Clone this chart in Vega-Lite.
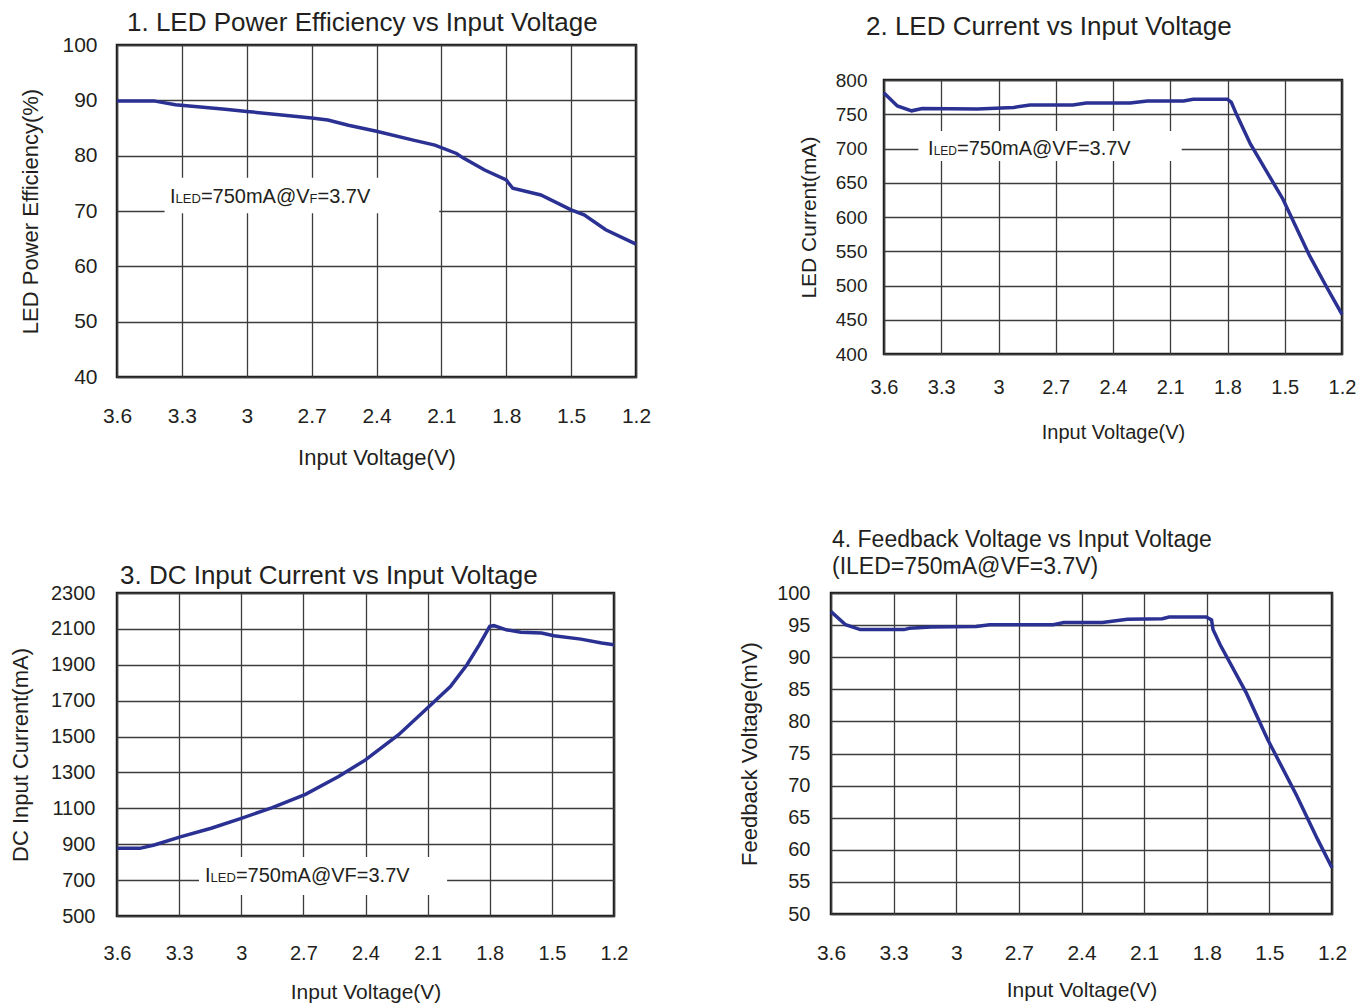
{
  "$schema": "https://vega.github.io/schema/vega-lite/v6.json",
  "background": "white",
  "padding": {"left": 7, "top": 8, "right": 5, "bottom": 5},
  "spacing": 57,
  "config": {
    "view": {"stroke": "#1a1a1a", "strokeWidth": 2.5},
    "axis": {
      "grid": true, "gridColor": "#3c3c3c", "gridWidth": 1.3, "gridOpacity": 1,
      "domain": false, "ticks": false,
      "labelFont": "Liberation Sans", "titleFont": "Liberation Sans",
      "labelColor": "#231f20", "titleColor": "#231f20", "titleFontWeight": "normal",
      "labelFlush": false, "labelOverlap": false
    },
    "title": {"font": "Liberation Sans", "fontWeight": "normal", "color": "#231f20", "anchor": "start", "frame": "group"}
  },
  "vconcat": [
    {
      "spacing": 144,
      "bounds": "full",
      "hconcat": [
        {
          "width": 519, "height": 332,
          "title": {"text": "1. LED Power Efficiency vs Input Voltage", "fontSize": 26, "dx": 10, "offset": -2},
          "encoding": {
            "x": {"field": "v", "type": "quantitative",
              "scale": {"domain": [1.2, 3.6], "reverse": true, "nice": false, "zero": false},
              "axis": {"values": [3.6, 3.3, 3, 2.7, 2.4, 2.1, 1.8, 1.5, 1.2], "format": "~g", "labelFontSize": 21, "labelPadding": 28,
                "title": "Input Voltage(V)", "titleFontSize": 22, "titleY": 80, "titleBaseline": "middle"}},
            "y": {"field": "val", "type": "quantitative",
              "scale": {"domain": [40, 100], "nice": false, "zero": false},
              "axis": {"values": [40, 50, 60, 70, 80, 90, 100], "format": "d", "labelFontSize": 21, "labelPadding": 20,
                "title": "LED Power Efficiency(%)", "titleFontSize": 22, "titleX": -87, "titleBaseline": "middle", "titleAngle": 270}}
          },
          "layer": [
            {"data": {"values": [{"v": 3.38, "v2": 2.11, "val": 69.6, "val2": 76.0}]},
             "mark": {"type": "rect", "fill": "white", "opacity": 1},
             "encoding": {"x2": {"field": "v2"}, "y2": {"field": "val2"}}},
            {"data": {"values": [
              {"v": 3.6, "val": 89.9}, {"v": 3.43, "val": 89.9}, {"v": 3.33, "val": 89.2}, {"v": 3.24, "val": 88.9},
              {"v": 3.1, "val": 88.4}, {"v": 3.0, "val": 88.0}, {"v": 2.85, "val": 87.4}, {"v": 2.7, "val": 86.8},
              {"v": 2.625, "val": 86.45}, {"v": 2.53, "val": 85.5}, {"v": 2.4, "val": 84.4}, {"v": 2.23, "val": 82.8},
              {"v": 2.13, "val": 81.9}, {"v": 2.03, "val": 80.4}, {"v": 2.0, "val": 79.6}, {"v": 1.9, "val": 77.4},
              {"v": 1.8, "val": 75.6}, {"v": 1.77, "val": 74.1}, {"v": 1.64, "val": 72.9}, {"v": 1.5, "val": 70.2},
              {"v": 1.44, "val": 69.3}, {"v": 1.34, "val": 66.6}, {"v": 1.2, "val": 64.0}]},
             "mark": {"type": "line", "color": "#2b3192", "strokeWidth": 3.5}},
            {"data": {"values": [{"v": 3.355, "val": 71.45}]},
             "layer": [
               {"mark": {"type": "text", "text": "I", "align": "left", "baseline": "alphabetic", "fontSize": 20, "dx": 0, "font": "Liberation Sans", "color": "#231f20"}},
               {"mark": {"type": "text", "text": "LED", "align": "left", "baseline": "alphabetic", "fontSize": 13, "dx": 5.6, "font": "Liberation Sans", "color": "#231f20"}},
               {"mark": {"type": "text", "text": "=750mA@V", "align": "left", "baseline": "alphabetic", "fontSize": 20, "dx": 30.9, "font": "Liberation Sans", "color": "#231f20"}},
               {"mark": {"type": "text", "text": "F", "align": "left", "baseline": "alphabetic", "fontSize": 13, "dx": 139.6, "font": "Liberation Sans", "color": "#231f20"}},
               {"mark": {"type": "text", "text": "=3.7V", "align": "left", "baseline": "alphabetic", "fontSize": 20, "dx": 147.5, "font": "Liberation Sans", "color": "#231f20"}}
             ]}
          ]
        },
        {"spacing": 0, "vconcat": [
        {
          "width": 458, "height": 24,
          "view": {"stroke": null},
          "title": {"text": "2. LED Current vs Input Voltage", "fontSize": 26, "dx": -18, "offset": 5},
          "data": {"values": [{"t": ""}]},
          "mark": {"type": "text"},
          "encoding": {"text": {"field": "t", "type": "nominal"}}
        },
        {
          "width": 458, "height": 274,
          "encoding": {
            "x": {"field": "v", "type": "quantitative",
              "scale": {"domain": [1.2, 3.6], "reverse": true, "nice": false, "zero": false},
              "axis": {"values": [3.6, 3.3, 3, 2.7, 2.4, 2.1, 1.8, 1.5, 1.2], "format": "~g", "labelFontSize": 20, "labelPadding": 23,
                "title": "Input Voltage(V)", "titleFontSize": 20, "titleY": 78, "titleBaseline": "middle"}},
            "y": {"field": "val", "type": "quantitative",
              "scale": {"domain": [400, 800], "nice": false, "zero": false},
              "axis": {"values": [400, 450, 500, 550, 600, 650, 700, 750, 800], "format": "d", "labelFontSize": 19, "labelPadding": 17,
                "title": "LED Current(mA)", "titleFontSize": 21, "titleX": -75, "titleBaseline": "middle", "titleAngle": 270}}
          },
          "layer": [
            {"data": {"values": [{"v": 3.42, "v2": 2.04, "val": 681.8, "val2": 725.5}]},
             "mark": {"type": "rect", "fill": "white", "opacity": 1},
             "encoding": {"x2": {"field": "v2"}, "y2": {"field": "val2"}}},
            {"data": {"values": [
              {"v": 3.6, "val": 781}, {"v": 3.53, "val": 762}, {"v": 3.455, "val": 755}, {"v": 3.4, "val": 758.5},
              {"v": 3.11, "val": 757.7}, {"v": 2.92, "val": 760}, {"v": 2.835, "val": 763.5}, {"v": 2.61, "val": 763.5},
              {"v": 2.54, "val": 766.4}, {"v": 2.31, "val": 766.4}, {"v": 2.22, "val": 769.3}, {"v": 2.03, "val": 769.3},
              {"v": 1.98, "val": 771.8}, {"v": 1.8, "val": 771.8}, {"v": 1.78, "val": 767.4}, {"v": 1.75, "val": 748},
              {"v": 1.68, "val": 706.6}, {"v": 1.51, "val": 626.3}, {"v": 1.37, "val": 543.5}, {"v": 1.28, "val": 497.4},
              {"v": 1.2, "val": 458}]},
             "mark": {"type": "line", "color": "#2b3192", "strokeWidth": 3.5}},
            {"data": {"values": [{"v": 3.369, "val": 690.5}]},
             "layer": [
               {"mark": {"type": "text", "text": "I", "align": "left", "baseline": "alphabetic", "fontSize": 20, "dx": 0, "font": "Liberation Sans", "color": "#231f20"}},
               {"mark": {"type": "text", "text": "LED", "align": "left", "baseline": "alphabetic", "fontSize": 12, "dx": 5.6, "font": "Liberation Sans", "color": "#231f20"}},
               {"mark": {"type": "text", "text": "=750mA@V", "align": "left", "baseline": "alphabetic", "fontSize": 20, "dx": 28.9, "font": "Liberation Sans", "color": "#231f20"}},
               {"mark": {"type": "text", "text": "F", "align": "left", "baseline": "alphabetic", "fontSize": 20, "dx": 137.6, "font": "Liberation Sans", "color": "#231f20"}},
               {"mark": {"type": "text", "text": "=3.7V", "align": "left", "baseline": "alphabetic", "fontSize": 20, "dx": 149.8, "font": "Liberation Sans", "color": "#231f20"}}
             ]}
          ]
        }]}
      ]
    },
    {
      "spacing": 217,
      "bounds": "flush",
      "hconcat": [
        {
          "width": 497, "height": 323,
          "title": {"text": "3. DC Input Current vs Input Voltage", "fontSize": 26, "dx": 3, "offset": -6},
          "encoding": {
            "x": {"field": "v", "type": "quantitative",
              "scale": {"domain": [1.2, 3.6], "reverse": true, "nice": false, "zero": false},
              "axis": {"values": [3.6, 3.3, 3, 2.7, 2.4, 2.1, 1.8, 1.5, 1.2], "format": "~g", "labelFontSize": 20, "labelPadding": 27,
                "title": "Input Voltage(V)", "titleFontSize": 21, "titleY": 76, "titleBaseline": "middle"}},
            "y": {"field": "val", "type": "quantitative",
              "scale": {"domain": [500, 2300], "nice": false, "zero": false},
              "axis": {"values": [500, 700, 900, 1100, 1300, 1500, 1700, 1900, 2100, 2300], "format": "d", "labelFontSize": 20, "labelPadding": 22,
                "title": "DC Input Current(mA)", "titleFontSize": 22, "titleX": -97, "titleBaseline": "middle", "titleAngle": 270}}
          },
          "layer": [
            {"data": {"values": [{"v": 3.204, "v2": 2.006, "val": 617, "val2": 829}]},
             "mark": {"type": "rect", "fill": "white", "opacity": 1},
             "encoding": {"x2": {"field": "v2"}, "y2": {"field": "val2"}}},
            {"data": {"values": [
              {"v": 3.6, "val": 877}, {"v": 3.49, "val": 877}, {"v": 3.42, "val": 896}, {"v": 3.29, "val": 942},
              {"v": 3.145, "val": 989}, {"v": 3.0, "val": 1044}, {"v": 2.85, "val": 1104}, {"v": 2.69, "val": 1178},
              {"v": 2.53, "val": 1277}, {"v": 2.4, "val": 1370}, {"v": 2.24, "val": 1510}, {"v": 2.11, "val": 1649},
              {"v": 1.99, "val": 1779}, {"v": 1.91, "val": 1900}, {"v": 1.85, "val": 2012}, {"v": 1.8, "val": 2114},
              {"v": 1.78, "val": 2118}, {"v": 1.72, "val": 2095}, {"v": 1.65, "val": 2081}, {"v": 1.55, "val": 2077},
              {"v": 1.49, "val": 2062}, {"v": 1.36, "val": 2043}, {"v": 1.26, "val": 2021}, {"v": 1.2, "val": 2012}]},
             "mark": {"type": "line", "color": "#2b3192", "strokeWidth": 3.5}},
            {"data": {"values": [{"v": 3.175, "val": 691}]},
             "layer": [
               {"mark": {"type": "text", "text": "I", "align": "left", "baseline": "alphabetic", "fontSize": 20, "dx": 0, "font": "Liberation Sans", "color": "#231f20"}},
               {"mark": {"type": "text", "text": "LED", "align": "left", "baseline": "alphabetic", "fontSize": 13, "dx": 5.6, "font": "Liberation Sans", "color": "#231f20"}},
               {"mark": {"type": "text", "text": "=750mA@VF=3.7V", "align": "left", "baseline": "alphabetic", "fontSize": 20, "dx": 30.9, "font": "Liberation Sans", "color": "#231f20"}}
             ]}
          ]
        },
        {
          "width": 501, "height": 321,
          "title": {"text": ["4. Feedback Voltage vs Input Voltage", "(ILED=750mA@VF=3.7V)"], "fontSize": 23, "lineHeight": 27, "dx": 1, "offset": 4},
          "encoding": {
            "x": {"field": "v", "type": "quantitative",
              "scale": {"domain": [1.2, 3.6], "reverse": true, "nice": false, "zero": false},
              "axis": {"values": [3.6, 3.3, 3, 2.7, 2.4, 2.1, 1.8, 1.5, 1.2], "format": "~g", "labelFontSize": 21, "labelPadding": 28,
                "title": "Input Voltage(V)", "titleFontSize": 21, "titleY": 76, "titleBaseline": "middle"}},
            "y": {"field": "val", "type": "quantitative",
              "scale": {"domain": [50, 100], "nice": false, "zero": false},
              "axis": {"values": [50, 55, 60, 65, 70, 75, 80, 85, 90, 95, 100], "format": "d", "labelFontSize": 20, "labelPadding": 21,
                "title": "Feedback Voltage(mV)", "titleFontSize": 22, "titleX": -82, "titleBaseline": "middle", "titleAngle": 270}}
          },
          "layer": [
            {"data": {"values": [
              {"v": 3.6, "val": 97.1}, {"v": 3.53, "val": 95.05}, {"v": 3.46, "val": 94.3}, {"v": 3.25, "val": 94.3},
              {"v": 3.225, "val": 94.5}, {"v": 3.12, "val": 94.7}, {"v": 2.905, "val": 94.8}, {"v": 2.84, "val": 95.05},
              {"v": 2.535, "val": 95.05}, {"v": 2.485, "val": 95.4}, {"v": 2.3, "val": 95.4}, {"v": 2.18, "val": 95.9},
              {"v": 2.013, "val": 96.0}, {"v": 1.98, "val": 96.25}, {"v": 1.803, "val": 96.25}, {"v": 1.777, "val": 95.8},
              {"v": 1.77, "val": 94.3}, {"v": 1.735, "val": 91.9}, {"v": 1.61, "val": 84.4}, {"v": 1.51, "val": 77.3},
              {"v": 1.37, "val": 68.5}, {"v": 1.27, "val": 61.7}, {"v": 1.2, "val": 57.2}]},
             "mark": {"type": "line", "color": "#2b3192", "strokeWidth": 3.5}}
          ]
        }
      ]
    }
  ]
}
